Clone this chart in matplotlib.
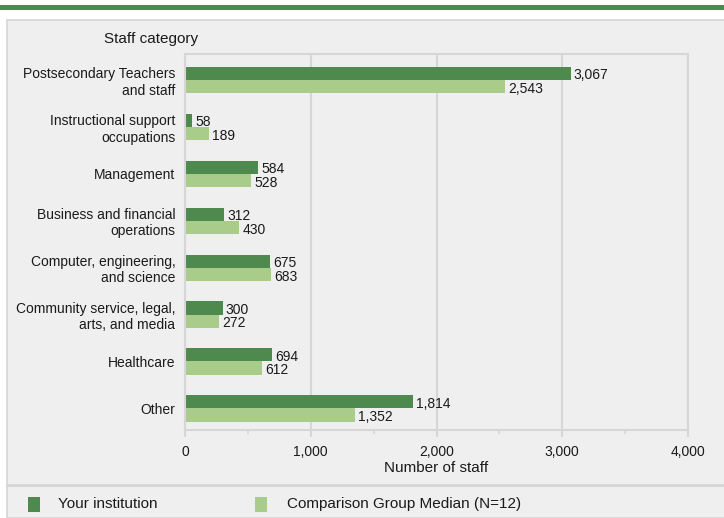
import matplotlib.pyplot as plt
import matplotlib.patches as mpatches
from matplotlib.ticker import FuncFormatter, MultipleLocator
import numpy as np

plt.rcParams["font.family"] = ["Liberation Sans", "DejaVu Sans"]
plt.rcParams["font.size"] = 10

CATEGORIES = [
    "Postsecondary Teachers\nand staff",
    "Instructional support\noccupations",
    "Management",
    "Business and financial\noperations",
    "Computer, engineering,\nand science",
    "Community service, legal,\narts, and media",
    "Healthcare",
    "Other",
]
YOUR_INST = [3067, 58, 584, 312, 675, 300, 694, 1814]
COMPARISON = [2543, 189, 528, 430, 683, 272, 612, 1352]

DARK = "#4e8a4e"
LIGHT = "#a9cc8a"
BG = "#efefef"
LINE = "#d6d6d6"
TXT = "#1a1a1a"

fig = plt.figure(figsize=(7.24, 5.18), dpi=100)
W, H = 724, 518

# top green rule and panel background (drawn behind the axes)
fig.patches.append(mpatches.Rectangle((0, 1 - 10 / H), 1, 5 / H, transform=fig.transFigure,
                                      facecolor=DARK, edgecolor="none", zorder=-2))
fig.patches.append(mpatches.Rectangle((7 / W, 0), 1, 1 - 20 / H, transform=fig.transFigure,
                                      facecolor=BG, edgecolor=LINE, linewidth=1.2, zorder=-2))
fig.lines.append(plt.Line2D([7 / W, 1], [1 - 485 / H] * 2, transform=fig.transFigure,
                            color=LINE, linewidth=2, zorder=-1))

ax = fig.add_axes([185 / W, 1 - 430 / H, (688 - 185) / W, (430 - 54) / H])
ax.set_facecolor(BG)

y = np.arange(len(CATEGORIES))
h = 0.28
ax.barh(y - h / 2, YOUR_INST, height=h, color=DARK, zorder=2)
ax.barh(y + h / 2, COMPARISON, height=h, color=LIGHT, zorder=2)
for yi, a, b in zip(y, YOUR_INST, COMPARISON):
    ax.text(a + 25, yi - h / 2 + 0.04, f"{a:,}", va="center", ha="left", fontsize=10, color=TXT)
    ax.text(b + 25, yi + h / 2 + 0.05, f"{b:,}", va="center", ha="left", fontsize=10, color=TXT)

ax.set_xlim(0, 4000)
ax.set_ylim(7.46, -0.553)
ax.set_yticks(y)
ax.set_yticklabels(CATEGORIES, ha="right", multialignment="right", fontsize=10, color=TXT)
ax.tick_params(axis="y", length=0, pad=7)
ax.xaxis.set_major_locator(MultipleLocator(1000))
ax.xaxis.set_minor_locator(MultipleLocator(500))
ax.xaxis.set_major_formatter(FuncFormatter(lambda v, _: f"{int(v):,}"))
ax.tick_params(axis="x", which="major", length=5, color=LINE, width=1.5, pad=6, labelsize=10,
               labelcolor=TXT)
ax.tick_params(axis="x", which="minor", length=3, color=LINE, width=1.2)
ax.grid(axis="x", which="major", color=LINE, linewidth=1.5, zorder=0)
ax.set_axisbelow(True)
for s in ax.spines.values():
    s.set_color(LINE)
    s.set_linewidth(1.5)
ax.set_xlabel("Number of staff", fontsize=11, labelpad=1, color=TXT)

fig.text(104 / W, 1 - 39 / H, "Staff category", ha="left", va="center", fontsize=11, color=TXT)

# legend
fig.patches.append(mpatches.Rectangle((28 / W, 1 - 512 / H), 12 / W, 15 / H, transform=fig.transFigure,
                                      facecolor=DARK, edgecolor="none"))
fig.text(58 / W, 1 - 504 / H, "Your institution", ha="left", va="center", fontsize=11, color=TXT)
fig.patches.append(mpatches.Rectangle((255 / W, 1 - 512 / H), 12 / W, 15 / H, transform=fig.transFigure,
                                      facecolor=LIGHT, edgecolor="none"))
fig.text(287 / W, 1 - 504 / H, "Comparison Group Median (N=12)", ha="left", va="center", fontsize=11,
         color=TXT)

fig.savefig("out.png", dpi=100)
